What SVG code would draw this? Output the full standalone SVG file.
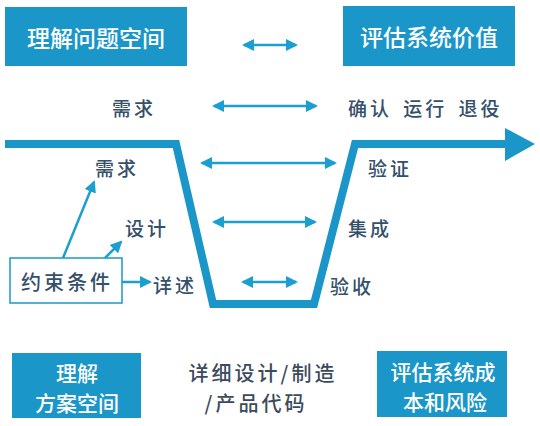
<svg xmlns="http://www.w3.org/2000/svg" width="540" height="426" viewBox="0 0 540 426">
<style>
.box{fill:#1b96c9}
.wt{fill:#ffffff;font-family:"Noto Sans CJK SC","Noto Sans",sans-serif;font-size:23px;font-weight:500;text-anchor:middle;dominant-baseline:central}
.wt2{fill:#ffffff;font-family:"Noto Sans CJK SC","Noto Sans",sans-serif;font-size:21px;font-weight:500;text-anchor:middle;dominant-baseline:central}
.lb{fill:#34506a;font-family:"Noto Sans CJK SC","Noto Sans",sans-serif;font-size:19px;font-weight:500;letter-spacing:3px;dominant-baseline:central}
.dk{fill:#3b4b5c;font-family:"Noto Sans CJK SC","Noto Sans",sans-serif;font-size:20px;font-weight:500;letter-spacing:3px;text-anchor:middle;dominant-baseline:central}
.ar{stroke:#1b9fd0;stroke-width:2.5;fill:none}
.main{stroke:#1b96c9;stroke-width:8;fill:none;stroke-linejoin:miter}
</style>
<defs>
<marker id="ah" viewBox="0 0 12 12" refX="10" refY="6" markerWidth="12" markerHeight="12" markerUnits="userSpaceOnUse" orient="auto-start-reverse">
<path d="M0,0 L12,6 L0,12 z" fill="#1b9fd0"/>
</marker>
</defs>
<rect width="540" height="426" fill="#ffffff"/>

<g id="n-problem"><rect class="box" x="5" y="7" width="182" height="59"/><text class="wt" x="96" y="37">理解问题空间</text></g>
<g id="n-value"><rect class="box" x="343" y="6" width="172" height="60"/><text class="wt" x="429" y="36">评估系统价值</text></g>
<g id="n-req-top"><text class="lb" x="112" y="107">需求</text></g>
<g id="n-ops"><text class="lb" x="348" y="107" style="letter-spacing:3px;word-spacing:4px">确认 运行 退役</text></g>

<g id="n-req"><text class="lb" x="95" y="167">需求</text></g>
<g id="n-design"><text class="lb" x="125" y="227">设计</text></g>
<g id="n-detail"><text class="lb" x="153" y="284">详述</text></g>
<g id="n-verify"><text class="lb" x="368" y="167">验证</text></g>
<g id="n-integ"><text class="lb" x="348" y="227">集成</text></g>
<g id="n-accept"><text class="lb" x="330" y="285">验收</text></g>

<g id="n-constraint"><rect x="10" y="258" width="112" height="45" fill="#ffffff" stroke="#1b96c9" stroke-width="1.5"/><text class="lb" x="67" y="281" style="font-size:20px;text-anchor:middle">约束条件</text></g>

<g id="n-solution"><rect class="box" x="12" y="353" width="129" height="65"/><text class="wt2" x="77" y="372">理解</text><text class="wt2" x="77" y="402">方案空间</text></g>
<g id="n-build"><text class="dk" x="263" y="372">详细设计/制造</text><text class="dk" x="256" y="402">/产品代码</text></g>
<g id="n-risk"><rect class="box" x="377" y="351" width="130" height="66"/><text class="wt2" x="443" y="371">评估系统成</text><text class="wt2" x="445" y="401">本和风险</text></g>

<g id="connectors">
<path class="main" d="M5,144 H176 L213,304 H314 L355,144 H507"/>
<polygon points="505,128 535,144 505,161" fill="#1b96c9"/>
<line class="ar" x1="244" y1="45" x2="296" y2="45" marker-start="url(#ah)" marker-end="url(#ah)"/>
<line class="ar" x1="214" y1="106" x2="316" y2="106" marker-start="url(#ah)" marker-end="url(#ah)"/>
<line class="ar" x1="202" y1="163" x2="335" y2="163" marker-start="url(#ah)" marker-end="url(#ah)"/>
<line class="ar" x1="214" y1="222" x2="315" y2="222" marker-start="url(#ah)" marker-end="url(#ah)"/>
<line class="ar" x1="243" y1="282" x2="296" y2="282" marker-start="url(#ah)" marker-end="url(#ah)"/>
<line class="ar" x1="63" y1="258" x2="94" y2="182" marker-end="url(#ah)"/>
<line class="ar" x1="105" y1="258" x2="121" y2="242" marker-end="url(#ah)"/>
<line class="ar" x1="122" y1="282" x2="150" y2="282" marker-end="url(#ah)"/>
</g>
</svg>
